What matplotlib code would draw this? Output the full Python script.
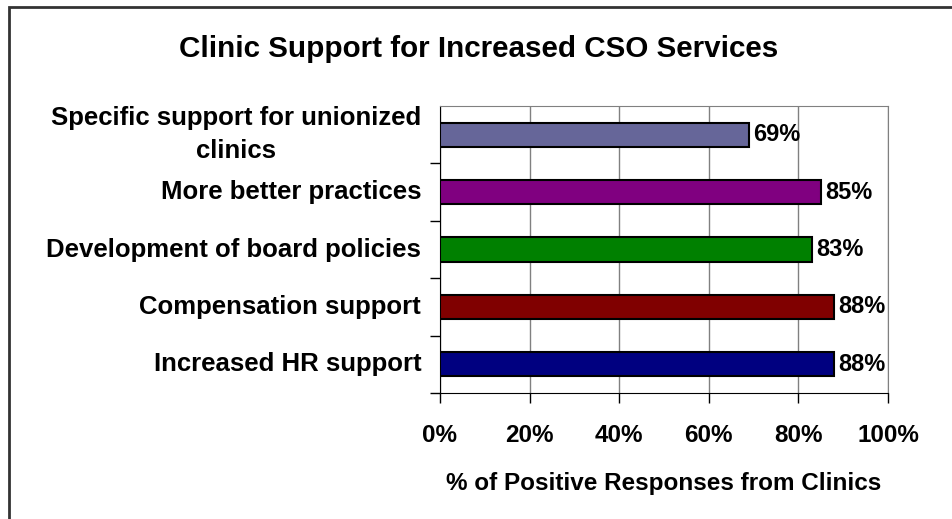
import matplotlib.pyplot as plt
from matplotlib.patches import Rectangle

plt.rcParams['font.family'] = ['Liberation Sans', 'DejaVu Sans']
plt.rcParams['font.weight'] = 'bold'

categories = [
    'Increased HR support',
    'Compensation support',
    'Development of board policies',
    'More better practices',
    'Specific support for unionized\nclinics',
]
values = [88, 88, 83, 85, 69]
bar_colors = ['#000080', '#800000', '#008000', '#800080', '#666699']
xticks = [0, 20, 40, 60, 80, 100]

fig = plt.figure(figsize=(9.53, 5.19), dpi=100)
ax = fig.add_axes([440 / 953, 126 / 519, 448 / 953, 287 / 519])

# outer chart border, only top and left edges fall inside the image
fig.patches.append(Rectangle((9.5 / 953, -0.1), 1.2, 1 - 7.5 / 519 + 0.1,
                             transform=fig.transFigure, fill=False,
                             edgecolor='#333333', linewidth=2))

ypos = list(range(len(categories)))
ax.barh(ypos, values, height=0.42, color=bar_colors, edgecolor='black',
        linewidth=1.5, zorder=3)

for y, v in zip(ypos, values):
    ax.text(v + 0.9, y, f'{v}%', va='center', ha='left', fontsize=17,
            fontweight='bold', zorder=4)

ax.set_xlim(0, 100)
ax.set_ylim(-0.5, len(categories) - 0.5)
ax.set_xticks(xticks)
ax.set_xticklabels([f'{t}%' for t in xticks], fontsize=17.5, fontweight='bold')
ax.tick_params(axis='x', direction='out', length=7, width=1, pad=15)

# category separators as ticks, labels drawn as text
ax.set_yticks([y + 0.5 for y in ypos[:-1]] + [-0.5])
ax.set_yticklabels([])
ax.tick_params(axis='y', direction='out', length=7, width=1)
for y, c in zip(ypos, categories):
    ax.text(-4.2, y, c, ha='right', va='center',
            multialignment='center', fontsize=18.5, fontweight='bold',
            linespacing=1.45, transform=ax.transData)

ax.grid(axis='x', color='#808080', linewidth=1, zorder=0)
ax.spines['top'].set_color('#808080')
ax.spines['right'].set_color('#808080')
ax.spines['left'].set_color('black')
ax.spines['bottom'].set_color('black')

ax.set_xlabel('% of Positive Responses from Clinics', fontsize=17.5,
              fontweight='bold', labelpad=18)
fig.text(479 / 953, 1 - 57 / 519, 'Clinic Support for Increased CSO Services',
         ha='center', va='baseline', fontsize=21.3, fontweight='bold')

fig.savefig('out.png', dpi=100)
